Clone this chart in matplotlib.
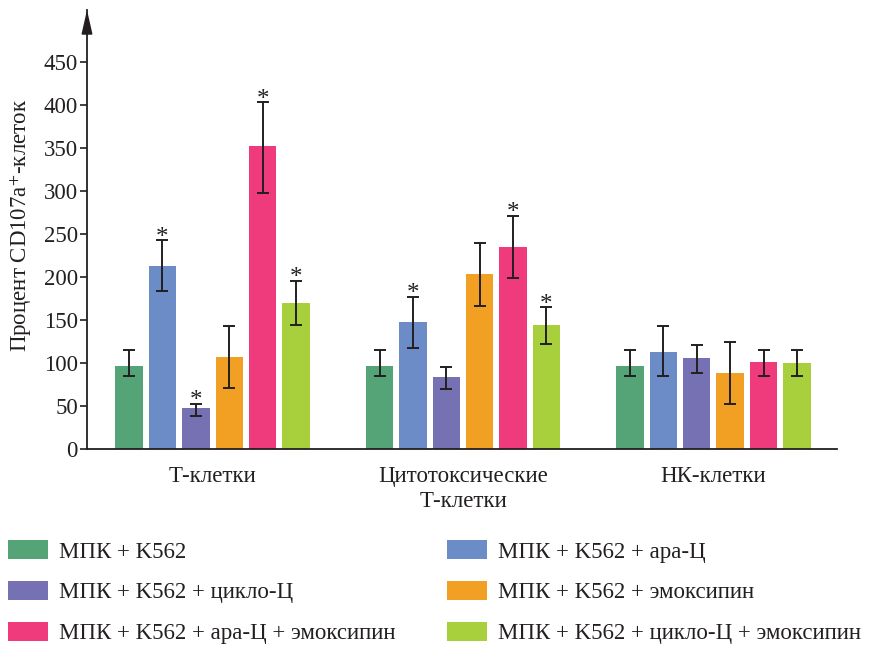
import matplotlib.pyplot as plt
import numpy as np
from matplotlib.patches import Patch

plt.rcParams['font.family'] = ['Liberation Serif', 'DejaVu Serif']
plt.rcParams['mathtext.fontset'] = 'stix'

# categories and series
groups = ["Т-клетки", "Цитотоксические\nТ-клетки", "НК-клетки"]
series = ["МПК + K562", "МПК + K562 + ара-Ц", "МПК + K562 + цикло-Ц",
          "МПК + K562 + эмоксипин", "МПК + K562 + ара-Ц + эмоксипин",
          "МПК + K562 + цикло-Ц + эмоксипин"]
colors = ['#55a477', '#6c8cc7', '#7571b3', '#f2a024', '#ef3a7c', '#a8cf3c']

# bar heights per group (one value per series)
t_means = [96.5, 213, 47.5, 106.5, 352, 169.5]
cyto_means = [96.5, 147.3, 83.3, 203, 235, 144]
nk_means = [96.5, 113, 105.4, 88, 101, 100.4]

# error bar ends (upper / lower) per group
t_hi = [115.5, 243, 52.7, 142.6, 403, 195.7]
t_lo = [85, 184, 38.8, 71, 298, 144.2]
cyto_hi = [115.5, 177, 95, 239, 271, 165]
cyto_lo = [85, 117, 69.4, 166, 199, 122]
nk_hi = [115.5, 143, 121, 124, 115.5, 115.5]
nk_lo = [85, 85, 88.8, 52.7, 85, 85]

# significance marks (*)
t_star = [0, 1, 1, 0, 1, 1]
cyto_star = [0, 1, 0, 0, 1, 1]
nk_star = [0, 0, 0, 0, 0, 0]

means = np.array([t_means, cyto_means, nk_means])
his = np.array([t_hi, cyto_hi, nk_hi])
los = np.array([t_lo, cyto_lo, nk_lo])
stars = np.array([t_star, cyto_star, nk_star])

W, H = 869, 645
fs = 16.5
fig = plt.figure(figsize=(W / 100, H / 100), dpi=100)
ax = fig.add_axes([87 / W, (H - 449) / H, (837 - 87) / W, (449 - 10) / H])

ink = '#231f20'
group_step = 7.5
centers = np.arange(len(groups)) * group_step

for i, (name, col) in enumerate(zip(series, colors)):
    x = centers + i - 2.5
    y = means[:, i]
    yerr = [y - los[:, i], his[:, i] - y]
    ax.bar(x, y, width=0.82, color=col, edgecolor='none', zorder=2)
    ax.errorbar(x, y, yerr=yerr, fmt='none', ecolor=ink, elinewidth=1.4,
                capsize=4, capthick=1.4, zorder=3)
    for xx, top, s in zip(x, his[:, i], stars[:, i]):
        if s:
            ax.annotate('*', xy=(xx, top), xytext=(0, -2.5), textcoords='offset points',
                        ha='center', va='baseline', fontsize=18, color=ink)

ax.set_xlim(-3.76, 18.7)
ax.set_ylim(0, 510.5)
ax.set_yticks(np.arange(0, 451, 50))
ax.set_xticks(centers)
ax.set_xticklabels(groups, fontsize=fs, color=ink, linespacing=1.2)
ax.tick_params(axis='x', length=0, pad=12.5)
ax.tick_params(axis='y', length=5, width=1.2, pad=1.5, labelsize=fs,
               colors=ink, direction='out')

for side in ['top', 'right']:
    ax.spines[side].set_visible(False)
for side in ['left', 'bottom']:
    ax.spines[side].set_color(ink)
    ax.spines[side].set_linewidth(1.3)

ax.annotate('', xy=(0, 1), xycoords='axes fraction', xytext=(0, 0.95),
            arrowprops=dict(arrowstyle='-|>,head_length=1.45,head_width=0.33',
                            mutation_scale=10, color=ink, lw=1.2,
                            shrinkA=0, shrinkB=0))

fig.text(21 / W, 1 - 225 / H, "Процент CD107a$^{+}$-клеток", rotation=90,
         ha='center', va='center', fontsize=fs, color=ink)

handles = [Patch(facecolor=c, edgecolor='none') for c in colors]
order = [0, 2, 4, 1, 3, 5]
fig.legend([handles[k] for k in order], [series[k] for k in order],
           ncol=2, loc='upper left', bbox_to_anchor=(8 / W, 1 - 540 / H),
           frameon=False, fontsize=fs, handlelength=1.75, handleheight=0.92,
           handletextpad=0.48, columnspacing=2.25, labelspacing=0.8,
           borderpad=0, borderaxespad=0, labelcolor=ink)

fig.savefig('out.png', dpi=100)
